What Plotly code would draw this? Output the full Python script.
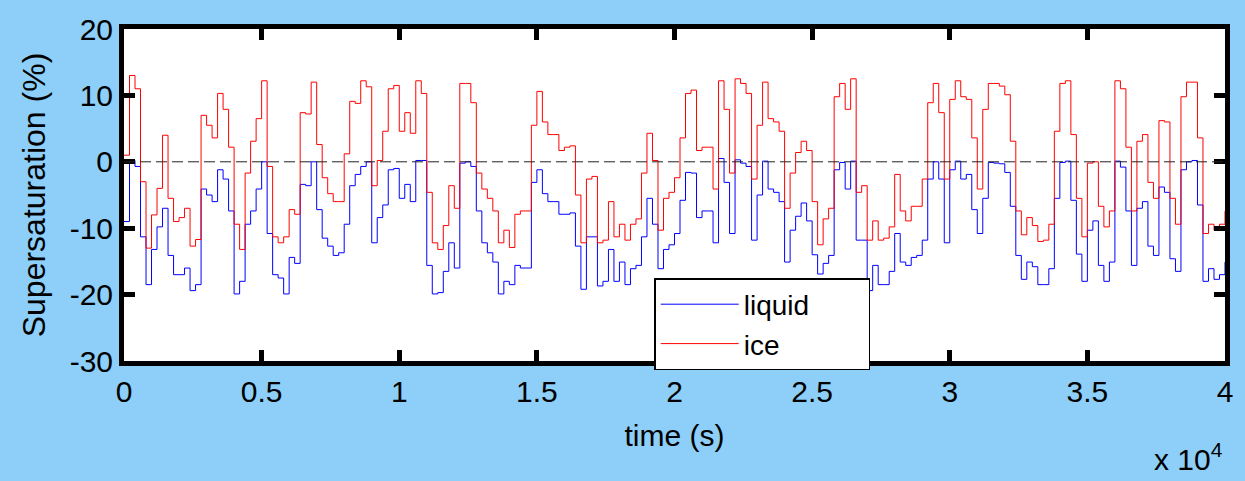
import plotly.graph_objects as go

# time in seconds (sampled every 200 s)
time_s = list(range(0, 40001, 200))

liquid = [
    -9, 0.2, -0.7, -11.3, -18.5, -13.2, -9.8, -7, -14.1, -17, -17, -16, -19.4, -18.5, -4.1, -5, -6, -1.2, -2.6, -7.4, -19.9, -18, -9.4, -7.4,
    -4.1, 0, -10.8, -17, -17.5, -19.9, -14.4, -15.3, -3.4, -3.6, 0, -7.2, -11.5, -12.7, -14.1, -13.7, -9.4, -3.6, -1.9, -0.7, 0, -12.2, -8.4, -6.5, -1.2, -1,
    -5.5, -3.4, -6, 0.2, 0.2, -15.6, -19.9, -19.7, -16.5, -12.2, -16, -0.2, 0, -0.7, -7.4, -12.2, -13.7, -15.1, -19.9, -18, -18.5, -15.6, -16, -16, -3.1,
    -1.2, -4.8, -6, -6, -7.9, -7.9, -7.7, -12.7, -19.2, -11.3, -11.3, -18.7, -18, -13.2, -18, -15.1, -18.5, -16.1, -15.6, -11.3, -5.5, -9.4, -16.1, -13.2, -12.5, -10.8,
    -5.8, -1.6, -1.7, -8.4, -7.4, -7.4, -12.2, 0.5, -3.1, -10.8, 0.3, -0.2, -0.7, -11.8, -5, 0.1, -4.1, -4.6, -6, -15.1, -10.3, -8.2, -6.2, -8.9, -14,
    -16.9, -15.3, -14.1, -1.2, -0.1, -4.1, 0.1, -11.8, -11.8, -19.4, -15.6, -18.5, -18.5, -16.5, -10.8, -15.1, -15.6, -14.4, -14.1, -11.8, -2.6, 0, -2.6, -12.2, -1.2,
    0.1, -2.6, -1.9, -7.2, -10.8, -5.5, -0.1, -0.2, -0.3, -1.6, -6.7, -14.1, -17.7, -15.1, -15.8, -18.5, -18.5, -16.1, -5.5, -0.1, 0.1, -5.8, -13.9, -18, -10.3,
    -8.9, -15.6, -18, -15.1, 0.1, -0.8, -7.4, -15.6, -7, -6, -12.7, -14.1, -3.8, -4.6, -14.6, -16.5, -1.2, 0, 0.2, -6.5, -18, -16.1, -17.7, -17, -15.1,
]

ice = [
    1, 13, 11, -3, -13, -8, -4, 4, -5.5, -9, -8.4, -7, -12.7, -11.7, 7, 5.5, 3.6, 10.3, 7.9, 2.2, -9.4, -13.2, -1.7, 3.1,
    6.5, 12.2, -0.7, -11.3, -12.2, -11.3, -7.2, -7.9, 7.4, 7.2, 12, 2.6, -2.4, -4.8, -6, -6, 1.2, 9.1, 8.8, 12.2, 11.3, -3.6, 0.2, 4.6, 11, 11.5,
    4.6, 7.4, 4.3, 12.2, 10.3, -4.6, -12.2, -13.2, -9.6, -3.6, -7, 11.8, 11.8, 8.9, -1.7, -4.1, -5.5, -7.4, -12.2, -10.3, -12.9, -7.9, -7.4, -7.4, 5.5,
    10.6, 6, 4.1, 4.1, 1.7, 2.2, 2.4, -5, -12.2, -2.6, -2.2, -12.2, -11.8, -6, -11.3, -9.4, -11.8, -9.4, -8.6, -1.7, 4.3, 0.2, -10.3, -5.5, -4.6, -2.4,
    3.6, 10.3, 10.8, 1.7, 2.2, 2.2, -4.1, 12.2, 7.9, -1.7, 12.5, 11.8, 10.3, -2.6, 5.5, 12, 6.5, 6, 4.6, -7, -1.7, 1.4, 3.1, 1.7, -6,
    -12.5, -8.6, -7, 9.8, 11.8, 7.9, 12.5, -4.6, -3.6, -11.8, -8.9, -11.8, -11.5, -9.8, -1.9, -7.4, -8.9, -6.7, -6.7, -2.6, 8.9, 11.8, 7.4, -2.6, 9.4,
    12.2, 9.8, 9.4, 3.6, -4.1, 7.9, 11.8, 11.8, 11.4, 10.1, 3.1, -7.4, -11, -8.4, -9.6, -12, -11.8, -9.4, 4.6, 11.8, 12.2, 4.1, -5.5, -11.3, -0.2,
    0, -6.7, -9.8, -7.4, 12.2, 11, 2.2, -7.4, 3.1, 4.1, -3.1, -5.5, 6.2, 6, -5.5, -9.4, 9.8, 12, 12, 3.6, -10.8, -9.4, -10.3, -9.4, -7.4,
]

x_tick_vals = [0, 5000, 10000, 15000, 20000, 25000, 30000, 35000, 40000]
x_tick_text = ["0", "0.5", "1", "1.5", "2", "2.5", "3", "3.5", "4"]
y_tick_vals = [-30, -20, -10, 0, 10, 20]
y_tick_text = ["-30", "-20", "-10", "0", "10", "20"]

FONT = "Liberation Sans, Arial, Helvetica, sans-serif"
BG = "#8DCFF8"
PAD = "\u00a0" * 7  # widens the legend box like the reference

fig = go.Figure()
fig.add_trace(go.Scatter(x=time_s, y=liquid, name="liquid" + PAD, mode="lines",
                         line=dict(color="#0000FF", width=1, shape="hv")))
fig.add_trace(go.Scatter(x=time_s, y=ice, name="ice" + PAD, mode="lines",
                         line=dict(color="#FF0000", width=1, shape="hv")))

fig.add_shape(type="line", xref="x domain", yref="y", x0=0, x1=1, y0=0, y1=0,
              line=dict(color="#222222", width=1, dash="11px,5px"))

axis_common = dict(showline=True, linewidth=5, linecolor="black", mirror="ticks",
                   ticks="inside", ticklen=11, tickwidth=5, tickcolor="black",
                   showgrid=False, zeroline=False,
                   tickfont=dict(family=FONT, size=30, color="black"))

fig.update_xaxes(range=[0, 40000], tickmode="array", tickvals=x_tick_vals, ticktext=x_tick_text,
                 title=dict(text="time (s)", font=dict(family=FONT, size=30, color="black"), standoff=19),
                 **axis_common)
fig.update_yaxes(range=[-30, 20], tickmode="array", tickvals=y_tick_vals, ticktext=y_tick_text,
                 title=dict(text="Supersaturation (%)", font=dict(family=FONT, size=32, color="black"), standoff=16),
                 **axis_common)

fig.add_annotation(text="x 10<sup>4</sup>", xref="paper", yref="paper", x=1.0, y=-0.225,
                   xanchor="right", yanchor="top", showarrow=False,
                   font=dict(family=FONT, size=30, color="black"))

fig.update_layout(
    width=1245, height=481,
    margin=dict(l=124, r=20, t=18, b=120),
    paper_bgcolor=BG, plot_bgcolor="white",
    showlegend=True,
    legend=dict(x=0.4816, y=0.25, xanchor="left", yanchor="top",
                bgcolor="white", bordercolor="black", borderwidth=1.5,
                font=dict(family=FONT, size=28, color="black"),
                itemwidth=78, tracegroupgap=0),
)

fig.write_html("out.html")
